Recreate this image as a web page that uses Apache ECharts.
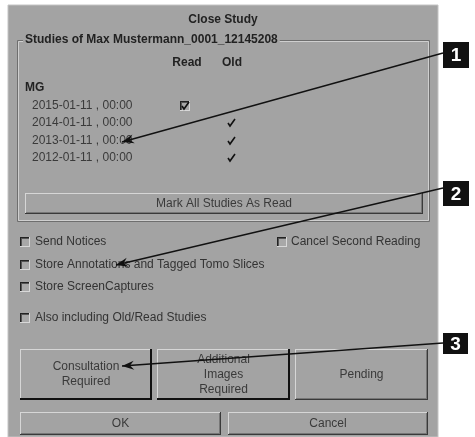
<!DOCTYPE html>
<html><head><meta charset="utf-8">
<script src="https://cdn.jsdelivr.net/npm/echarts@6/dist/echarts.min.js"></script>
<style>html,body{margin:0;padding:0;background:#fff}#c{width:475px;height:437px}</style>
</head><body><div id="c"></div>
<script>
const dialogTitle = "Close Study";
const groupTitle = "Studies of Max Mustermann_0001_12145208";
const columnHeaders = ["Read", "Old"];
const modality = "MG";
const studyDates = ["2015-01-11 , 00:00", "2014-01-11 , 00:00", "2013-01-11 , 00:00", "2012-01-11 , 00:00"];
const readFlags = [true, false, false, false];
const oldFlags = [false, true, true, true];
const markAllLabel = "Mark All Studies As Read";
const optionLabels = ["Send Notices", "Store Annotations and Tagged Tomo Slices", "Store ScreenCaptures", "Also including Old/Read Studies"];
const sideOptionLabel = "Cancel Second Reading";
const actionLabels = ["Consultation\nRequired", "Additional\nImages\nRequired", "Pending"];
const footerLabels = ["OK", "Cancel"];
const calloutNumbers = ["1", "2", "3"];

const BG = "#a3a3a3", TXT = "#333", FONT = "Liberation Sans";
const els = [];
function txt(x, y, s, o) {
  o = o || {};
  els.push({type:"text", x, y, z:o.z||5, style:{text:s, fill:o.fill||TXT, font:(o.bold?"bold ":"")+(o.size||12)+"px '"+FONT+"'",
    textAlign:o.align||"left", textVerticalAlign:"middle", lineHeight:o.lh||14, backgroundColor:o.bg, padding:o.pad}});
}
function line(x1,y1,x2,y2,c,w,z){els.push({type:"line",z:z||3,shape:{x1,y1,x2,y2},style:{stroke:c,lineWidth:w||1}});}
function rect(x,y,w,h,fill,stroke,z){els.push({type:"rect",z:z||1,shape:{x,y,width:w,height:h},style:{fill:fill||"none",stroke:stroke||"none",lineWidth:1}});}
function button(x,y,w,h,label,thick){
  rect(x,y,w,h,BG,null,2);
  line(x,y+0.5,x+w,y+0.5,"#d6d6d6",1);
  line(x+0.5,y,x+0.5,y+h,"#d6d6d6",1);
  if(thick){line(x,y+h-1,x+w,y+h-1,"#111",2);line(x+w-1,y,x+w-1,y+h,"#111",2);}
  else{line(x,y+h-0.5,x+w,y+h-0.5,"#3a3a3a",1);line(x+w-0.5,y,x+w-0.5,y+h,"#3a3a3a",1);
       line(x+1,y+h-1.5,x+w-1,y+h-1.5,"#777",1);line(x+w-1.5,y+1,x+w-1.5,y+h-1,"#777",1);}
  txt(x+w/2,y+h/2,label,{align:"center",fill:"#3a3a3a",lh:15});
}
function checkbox(x,y){
  rect(x+0.5,y+0.5,9,9,"#a8a8a8",null,2);
  line(x,y+0.5,x+10,y+0.5,"#222",1);line(x+0.5,y,x+0.5,y+10,"#222",1);
  line(x+1,y+1.5,x+9,y+1.5,"#555",1);line(x+1.5,y+1,x+1.5,y+9,"#555",1);
  line(x,y+9.5,x+10,y+9.5,"#d8d8d8",1);line(x+9.5,y,x+9.5,y+10,"#d8d8d8",1);
}
function tick(x,y){els.push({type:"polyline",z:5,shape:{points:[[x-3,y],[x-1,y+3],[x+4,y-4]]},style:{stroke:"#111",lineWidth:1.6,fill:"none"}});}
function arrow(x1,y1,x2,y2){
  line(x1,y1,x2,y2,"#111",1.3,8);
  const a=Math.atan2(y2-y1,x2-x1),L=12,Wd=4.5;
  const bx=x2-L*Math.cos(a),by=y2-L*Math.sin(a);
  els.push({type:"polygon",z:8,shape:{points:[[x2,y2],[bx-Wd*Math.sin(a),by+Wd*Math.cos(a)],[x2-8*Math.cos(a),y2-8*Math.sin(a)],[bx+Wd*Math.sin(a),by-Wd*Math.cos(a)]]},style:{fill:"#111"}});
}
function callout(x,y,w,h,n){rect(x,y,w,h,"#111",null,8);txt(x+w/2,y+h/2+1,n,{align:"center",bold:true,size:19,fill:"#fff",z:9});}

// dialog
rect(8,5,430,432,BG,"#c4c4c4",0);
txt(223,20,dialogTitle,{align:"center",bold:true,fill:"#222"});
// group box
rect(17.5,40.5,412,181,null,"#6e6e6e",1);
rect(18.5,41.5,410,179,null,"#cfcfcf",1);
txt(23,40,groupTitle,{bold:true,fill:"#222",bg:BG,pad:[0,2,0,2]});
txt(187,63,columnHeaders[0],{align:"center",bold:true,fill:"#222"});
txt(232,63,columnHeaders[1],{align:"center",bold:true,fill:"#222"});
txt(25,88,modality,{bold:true,fill:"#222"});
const rowY=[106,123,141,158];
studyDates.forEach((d,i)=>{
  txt(32,rowY[i],d,{fill:"#3a3a3a"});
  if(readFlags[i]){checkbox(180,rowY[i]-5);tick(185,rowY[i]);}
  if(oldFlags[i]){tick(231,rowY[i]);}
});
button(25,193,398,21,markAllLabel,false);
// options
const optY=[242,265,287,318];
optionLabels.forEach((l,i)=>{checkbox(20,optY[i]-5);txt(35,optY[i],l);});
checkbox(277,237);txt(291,242,sideOptionLabel);
// action buttons
button(20,349,132,51,actionLabels[0],true);
button(157,349,133,51,actionLabels[1],true);
button(295,349,133,51,actionLabels[2],false);
button(20,412,201,23,footerLabels[0],false);
button(228,412,200,23,footerLabels[1],false);
// callouts
callout(443,42,26,26,calloutNumbers[0]);
callout(443,181,26,25,calloutNumbers[1]);
callout(443,333,25,21,calloutNumbers[2]);
arrow(443,53,122,142);
arrow(443,188,116,265);
arrow(443,343,122,366);

const chart = echarts.init(document.getElementById("c"),null,{renderer:"canvas"});
chart.setOption({animation:false,graphic:{elements:els}});
</script></body></html>
